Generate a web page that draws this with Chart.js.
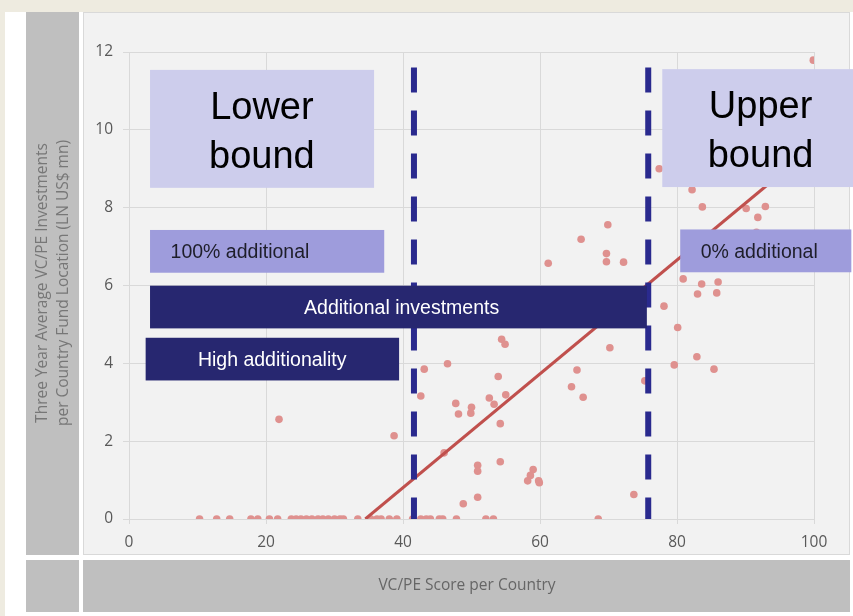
<!DOCTYPE html>
<html>
<head>
<meta charset="utf-8">
<script src="https://cdn.jsdelivr.net/npm/chart.js@4.4.1/dist/chart.umd.min.js"></script>
<style>
  html, body { margin: 0; padding: 0; background: #ffffff; }
  #wrap { width: 853px; height: 616px; position: relative; }
  canvas { display: block; }
</style>
</head>
<body>
<div id="wrap"><canvas id="chart" width="853" height="616"></canvas></div>
<script>
// Countries with no recorded VC/PE investment (value 0), by VC/PE score
const zeroScores = [10.3, 12.8, 14.7, 17.8, 18.8, 20.5, 21.7, 23.7, 24.4, 25.1, 25.9, 26.7,
  27.6, 28.3, 29.1, 30.0, 30.8, 31.3, 33.4, 35.3, 36.2, 36.8, 38.0, 39.1, 41.4, 42.6,
  43.4, 44.0, 45.3, 45.8, 47.8, 52.1, 53.2, 68.5];

// Countries with investment: VC/PE score and three-year average investment (LN US$ mn)
const scores = [21.9, 38.7, 43.1, 42.6, 46.5, 47.7, 48.1, 50.0, 49.9, 54.4, 54.9, 53.9,
  52.6, 53.3, 55.0, 54.2, 46.0, 54.2, 50.9, 50.9, 50.9, 48.8, 59.0, 58.6, 58.2, 59.8,
  59.9, 65.4, 64.6, 66.3, 70.2, 73.7, 75.3, 78.1, 80.1, 82.9, 79.6, 85.4, 69.9, 66.0,
  69.7, 69.7, 72.2, 61.2, 80.9, 83.6, 86.0, 83.0, 85.8, 99.9, 77.4, 82.2, 83.7, 90.1,
  92.9, 91.8, 91.6, 92.8];
const investments = [2.56, 2.14, 3.85, 3.16, 3.99, 2.97, 2.70, 2.87, 2.72, 4.62, 4.49, 3.66,
  3.11, 2.95, 3.19, 2.45, 1.70, 1.47, 1.38, 1.23, 0.56, 0.39, 1.27, 1.12, 0.98, 0.98,
  0.93, 3.83, 3.40, 3.13, 4.40, 0.63, 3.55, 5.47, 4.92, 4.17, 3.96, 3.85, 7.56, 7.19,
  6.82, 6.61, 6.60, 6.57, 6.17, 6.04, 6.09, 5.78, 5.81, 11.79, 9.00, 8.46, 8.02, 7.98,
  8.03, 7.75, 7.37, 7.29];

// Fitted trend line end points
const trendX = [34.5, 100];
const trendY = [0, 9.58];

// Lower and upper score thresholds
const boundScores = [41.6, 75.8];
const boundTop = 11.6;

// Axis ticks
const xTicks = [0, 20, 40, 60, 80, 100];
const yTicks = [0, 2, 4, 6, 8, 10, 12];

// Callout boxes: score range, investment range, text lines
const calloutNames = ['lower', 'full', 'additional', 'high', 'upper', 'none'];
const calloutText = [
  ['Lower', 'bound'],
  ['100% additional'],
  ['Additional investments'],
  ['High additionality'],
  ['Upper', 'bound'],
  ['0% additional']
];
const calloutX = [[3.07, 35.78], [3.07, 37.26], [3.07, 75.6], [2.43, 39.43], [77.85, 108], [80.47, 105.45]];
const calloutY = [[11.54, 8.51], [7.427, 6.328], [5.995, 4.898], [4.657, 3.56], [11.56, 8.53], [7.44, 6.34]];
const calloutTextX = [19.4, 16.2, 39.8, 20.9, 92.2, 92.0];

const dataPoints = zeroScores.map(x => ({ x: x, y: 0 }))
  .concat(scores.map((x, i) => ({ x: x, y: investments[i] })));

const calloutStyle = {
  lower: { fill: '#cdcdec', color: '#000000', font: '38px "Liberation Sans", Arial, sans-serif', base: [49, 98] },
  upper: { fill: '#cdcdec', color: '#000000', font: '38px "Liberation Sans", Arial, sans-serif', base: [49, 98] },
  full: { fill: '#9e9cdc', color: '#1e1e2a', font: '19.5px "Liberation Sans", Arial, sans-serif', base: [28] },
  none: { fill: '#9e9cdc', color: '#1e1e2a', font: '19.5px "Liberation Sans", Arial, sans-serif', base: [29] },
  additional: { fill: '#272770', color: '#ffffff', font: '19.5px "Liberation Sans", Arial, sans-serif', base: [28] },
  high: { fill: '#272770', color: '#ffffff', font: '19.5px "Liberation Sans", Arial, sans-serif', base: [28] }
};

// Panels behind the plot and the axis-title strips
const framePlugin = {
  id: 'frame',
  beforeDraw(chart) {
    const ctx = chart.ctx;
    ctx.save();
    ctx.fillStyle = '#ffffff';
    ctx.fillRect(0, 0, chart.width, chart.height);
    ctx.fillStyle = '#eeebe0';
    ctx.fillRect(0, 0, chart.width, 12);
    ctx.fillRect(0, 0, 5, chart.height);
    ctx.fillStyle = '#bfbfbf';
    ctx.fillRect(26, 12, 53, 543);
    ctx.fillRect(26, 560, 53, 52);
    ctx.fillRect(83, 560, 767, 52);
    ctx.fillStyle = '#f2f2f2';
    ctx.fillRect(84, 12, 766, 543);
    ctx.strokeStyle = '#d9d9d9';
    ctx.lineWidth = 1;
    ctx.strokeRect(83.5, 12.5, 766, 542);
    ctx.restore();
  },
  afterDraw(chart) {
    const ctx = chart.ctx;
    ctx.save();
    ctx.font = '15.5px "Open Sans", sans-serif';
    ctx.textAlign = 'center';
    ctx.textBaseline = 'middle';
    ctx.fillStyle = '#777777';
    ctx.translate(53, 283);
    ctx.rotate(-Math.PI / 2);
    ctx.fillText('Three Year Average VC/PE Investments', 0, -10.5);
    ctx.fillText('per Country Fund Location (LN US$ mn)', 0, 10.5);
    ctx.restore();
    ctx.save();
    ctx.font = '15.5px "Open Sans", sans-serif';
    ctx.textAlign = 'center';
    ctx.textBaseline = 'middle';
    ctx.fillStyle = '#666666';
    ctx.fillText('VC/PE Score per Country', 467, 586);
    ctx.restore();
  }
};

// Callout boxes drawn over the data
const calloutPlugin = {
  id: 'callouts',
  afterDatasetsDraw(chart) {
    const ctx = chart.ctx;
    const xs = chart.scales.x, ys = chart.scales.y;
    ctx.save();
    calloutNames.forEach((name, i) => {
      const st = calloutStyle[name];
      const left = xs.getPixelForValue(calloutX[i][0]);
      const right = xs.getPixelForValue(calloutX[i][1]);
      const top = ys.getPixelForValue(calloutY[i][0]);
      const bottom = ys.getPixelForValue(calloutY[i][1]);
      ctx.fillStyle = st.fill;
      ctx.fillRect(left, top, right - left, bottom - top);
      ctx.fillStyle = st.color;
      ctx.font = st.font;
      ctx.textAlign = 'center';
      ctx.textBaseline = 'alphabetic';
      const tx = xs.getPixelForValue(calloutTextX[i]);
      calloutText[i].forEach((line, k) => {
        ctx.fillText(line, tx, top + st.base[k]);
      });
    });
    ctx.restore();
  }
};

Chart.defaults.font.family = '"Open Sans", sans-serif';

new Chart(document.getElementById('chart'), {
  type: 'scatter',
  data: {
    datasets: [
      {
        label: 'Lower bound',
        data: [{ x: boundScores[0], y: boundTop }, { x: boundScores[0], y: 0 }],
        showLine: true,
        borderColor: '#2a2a8e',
        borderWidth: 6,
        borderDash: [25, 18],
        borderCapStyle: 'butt',
        pointRadius: 0,
        order: 0
      },
      {
        label: 'Upper bound',
        data: [{ x: boundScores[1], y: boundTop }, { x: boundScores[1], y: 0 }],
        showLine: true,
        borderColor: '#2a2a8e',
        borderWidth: 6,
        borderDash: [25, 18],
        borderCapStyle: 'butt',
        pointRadius: 0,
        order: 0
      },
      {
        label: 'Trend',
        data: trendX.map((x, i) => ({ x: x, y: trendY[i] })),
        showLine: true,
        borderColor: '#c0504d',
        borderWidth: 3,
        pointRadius: 0,
        order: 1
      },
      {
        label: 'Countries',
        data: dataPoints,
        backgroundColor: '#df918f',
        borderWidth: 0,
        pointRadius: 3.8,
        order: 2
      }
    ]
  },
  options: {
    responsive: false,
    animation: false,
    devicePixelRatio: 1,
    layout: { padding: { left: 84, top: 52, right: 39, bottom: 0 } },
    plugins: { legend: { display: false }, tooltip: { enabled: false } },
    scales: {
      x: {
        type: 'linear',
        min: 0,
        max: 100,
        afterBuildTicks: s => { s.ticks = xTicks.map(v => ({ value: v })); },
        afterFit: s => { s.height = 97; },
        grid: { color: '#d9d9d9', lineWidth: 1, tickLength: 5, drawTicks: true },
        border: { color: '#d9d9d9' },
        ticks: { color: '#595959', padding: 9, font: { size: 15.5 } }
      },
      y: {
        type: 'linear',
        min: 0,
        max: 12,
        afterBuildTicks: s => { s.ticks = yTicks.map(v => ({ value: v })); },
        afterFit: s => { s.width = 45; },
        grid: { color: '#d9d9d9', lineWidth: 1, tickLength: 6, drawTicks: true },
        border: { color: '#d9d9d9' },
        ticks: { color: '#595959', padding: 10, font: { size: 15.5 } }
      }
    }
  },
  plugins: [framePlugin, calloutPlugin]
});
</script>
</body>
</html>
